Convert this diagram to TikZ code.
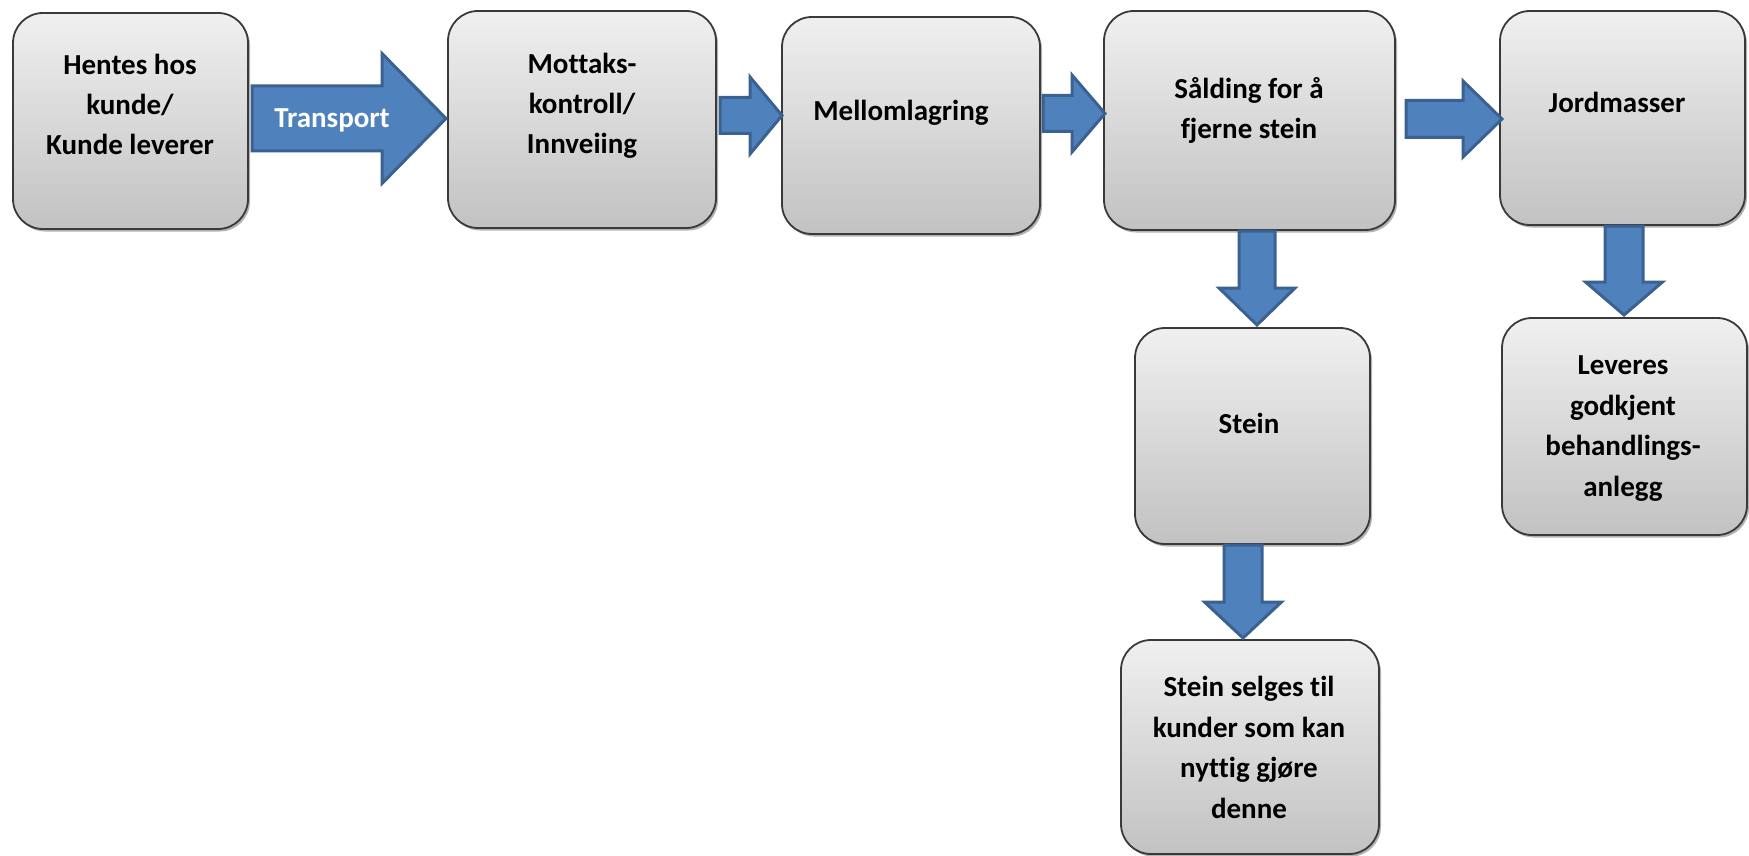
\documentclass[tikz,border=0pt]{standalone}
\usepackage{fontspec}
\setmainfont{Carlito}[Ligatures=NoCommon]
\usetikzlibrary{shadows}

\definecolor{arrowfill}{HTML}{4F81BD}
\definecolor{arrowline}{HTML}{3B6190}
\definecolor{boxline}{HTML}{3A3A3A}

% right-pointing block arrow: start x, head base x, tip x, centre y, shaft half, head half
\newcommand\blockright[6]{%
  \draw[blockarrow] (#1,#4-#5) -- (#2,#4-#5) -- (#2,#4-#6) -- (#3,#4)
    -- (#2,#4+#6) -- (#2,#4+#5) -- (#1,#4+#5) -- cycle;}
% down-pointing block arrow: start y, head base y, tip y, centre x, shaft half, head half
\newcommand\blockdown[6]{%
  \draw[blockarrow] (#4-#5,#1) -- (#4-#5,#2) -- (#4-#6,#2) -- (#4,#3)
    -- (#4+#6,#2) -- (#4+#5,#2) -- (#4+#5,#1) -- cycle;}

\begin{document}
\begin{tikzpicture}[x=1pt,y=-1pt,
  stepbox/.style={draw=boxline, line width=1.8pt, rounded corners=30pt,
    top color=gray!12, bottom color=gray!48,
    drop shadow={shadow xshift=2pt, shadow yshift=-2.5pt, opacity=0.3, fill=black},
    inner sep=0pt},
  % the base anchor of a multi-line label sits on its last line
  steptext/.style={align=center, anchor=base, inner sep=0pt,
    font=\fontsize{29}{40.5}\selectfont\bfseries},
  blockarrow/.style={fill=arrowfill, draw=arrowline, line width=3pt, line join=miter}]

\useasboundingbox (0,0) rectangle (1749,856);

% process steps
\node[stepbox, minimum width=235pt, minimum height=216pt] (b1) at (130.5,121) {};
\node[stepbox, minimum width=268pt, minimum height=217pt] (b2) at (582,119.5) {};
\node[stepbox, minimum width=258pt, minimum height=217pt] (b3) at (911,125.5) {};
\node[stepbox, minimum width=291pt, minimum height=219pt] (b4) at (1249.5,120.5) {};
\node[stepbox, minimum width=245pt, minimum height=214pt] (b5) at (1622.5,118) {};
\node[stepbox, minimum width=235pt, minimum height=216pt] (b6) at (1252.5,436) {};
\node[stepbox, minimum width=258pt, minimum height=214pt] (b7) at (1250,747) {};
\node[stepbox, minimum width=245pt, minimum height=217pt] (b8) at (1624.5,426.5) {};

% step labels (positioned by the baseline of the last line)
\node[steptext] (t1) at (130,155) {Hentes hos\\kunde/\\Kunde leverer};
\node[steptext] (t2) at (582,154) {Mottaks-\\kontroll/\\Innveiing};
\node[steptext] (t3) at (901,121) {Mellomlagring};
\node[steptext] (t4) at (1249,139) {Sålding for å\\fjerne stein};
\node[steptext] (t5) at (1617,113) {Jordmasser};
\node[steptext] (t6) at (1249,433) {Stein};
\node[steptext] (t7) at (1249,818) {Stein selges til\\kunder som kan\\nyttig gjøre\\denne};
\node[steptext] (t8) at (1623,496) {Leveres\\godkjent\\behandlings-\\anlegg};

% flow arrows
\blockright{252}{382}{446}{118.5}{32.5}{65}
\node[steptext, text=white] (tr) at (332,128) {Transport};
\blockright{720}{750}{782}{115.5}{18}{38.5}
\blockright{1043}{1072}{1105}{113.5}{18}{38.5}
\blockright{1406}{1463}{1502}{119}{18.5}{38}
\blockdown{231}{288}{325}{1257}{18}{38}
\blockdown{545}{602}{638}{1243}{19}{38.5}
\blockdown{226}{282}{315}{1624}{19}{38.5}

\end{tikzpicture}
\end{document}
